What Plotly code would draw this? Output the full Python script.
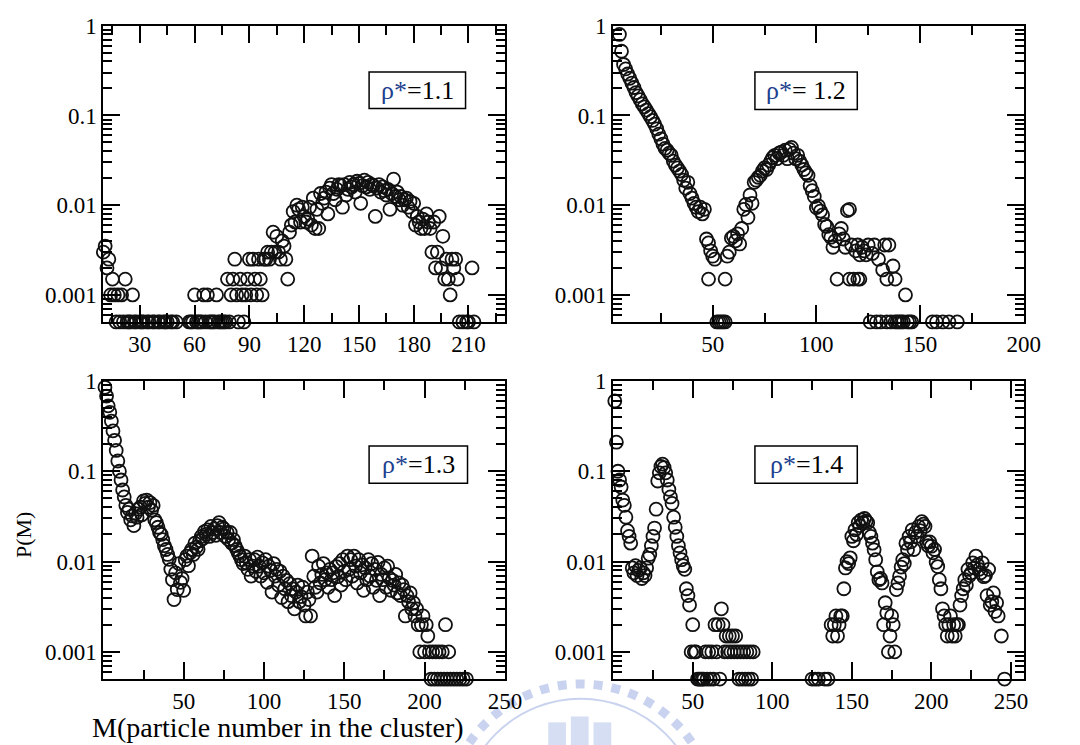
import plotly.graph_objects as go

W, H = 1080, 745

# ---- cluster-size distributions P(M) for four reduced densities ----
m_rho11 = [10, 11, 12, 13, 14, 15, 16, 17, 18, 19, 20, 21, 22, 23, 24, 25, 26, 27, 28, 30,
           31, 32, 34, 35, 37, 38, 40, 41, 43, 44, 45, 47, 48, 50,
           57, 58, 59, 60, 61, 62, 63, 64, 65, 66, 67, 68, 69, 70, 71, 72, 73, 74, 75, 76,
           77, 78, 79, 80, 81, 82, 83, 84, 85, 86, 87, 88, 89, 90, 91, 92, 93, 94, 95, 96,
           97, 98, 99, 100, 101, 102, 103, 104, 105, 106, 107, 108, 109, 110, 111, 112, 113,
           114, 115, 116, 117, 118, 119, 120, 121, 122, 123, 124, 125, 126, 127, 128, 129,
           130, 131, 132, 133, 134, 135, 136, 137, 138, 139, 140, 141, 142, 143, 144, 145,
           146, 147, 148, 149, 150, 151, 152, 153, 154, 155, 156, 157, 158, 159, 160, 161,
           162, 163, 164, 165, 166, 167, 168, 169, 170, 171, 172, 173, 174, 175, 176, 177,
           178, 179, 180, 181, 182, 183, 184, 185, 186, 187, 188, 189, 190, 191, 192, 193,
           194, 195, 196, 197, 198, 199, 200, 201, 202, 203, 204, 205, 207, 209, 210, 212, 213]
p_rho11 = [0.003, 0.0035, 0.002, 0.0025, 0.001, 0.0015, 0.001, 0.0005, 0.001, 0.0005, 0.001,
           0.0005, 0.0015, 0.0005, 0.0005, 0.0005, 0.001, 0.0005, 0.0005, 0.0005,
           0.0005, 0.0005, 0.0005, 0.0005, 0.0005, 0.0005, 0.0005, 0.0005, 0.0005, 0.0005,
           0.0005, 0.0005, 0.0005, 0.0005,
           0.0005, 0.0005, 0.0005, 0.001, 0.0005, 0.0005, 0.0005, 0.0005, 0.001, 0.0005,
           0.001, 0.0005, 0.0005, 0.0005, 0.0005, 0.001, 0.0005, 0.0005, 0.0005, 0.0005,
           0.0005, 0.0015, 0.0005, 0.001, 0.0015, 0.0025, 0.001, 0.0005, 0.0015, 0.001,
           0.0005, 0.001, 0.0015, 0.0025, 0.001, 0.0025, 0.0015, 0.001, 0.0025, 0.0015,
           0.001, 0.0025, 0.0025, 0.003, 0.0025, 0.003, 0.005, 0.003, 0.0045, 0.003, 0.0025,
           0.004, 0.0035, 0.0025, 0.0015, 0.005, 0.006,
           0.0085, 0.0065, 0.01, 0.009, 0.0065, 0.0095, 0.0075, 0.0065, 0.007, 0.0095, 0.006,
           0.012, 0.0055, 0.009, 0.0055, 0.0135,
           0.0105, 0.012, 0.014, 0.008, 0.0155, 0.017, 0.0135, 0.0115, 0.015, 0.017, 0.0165,
           0.0095, 0.017, 0.013, 0.015, 0.018,
           0.016, 0.017, 0.014, 0.0185, 0.0175, 0.0105, 0.0165, 0.019, 0.016, 0.018, 0.015,
           0.017, 0.0165, 0.0075, 0.0155, 0.017,
           0.014, 0.016, 0.0145, 0.013, 0.015, 0.009, 0.0135, 0.0195, 0.0125, 0.014, 0.0115,
           0.0125, 0.01, 0.0115, 0.012, 0.0095,
           0.011, 0.0085, 0.0105, 0.006, 0.0075, 0.0065, 0.0055, 0.007, 0.0055, 0.008, 0.0065,
           0.0055, 0.003, 0.0065, 0.002, 0.003,
           0.0075, 0.002, 0.0045, 0.0015, 0.0025, 0.0015, 0.001, 0.0025, 0.002, 0.0025, 0.0015,
           0.0005, 0.0005, 0.0005, 0.0005, 0.002, 0.0005]

m_rho12 = [5, 6, 7, 8, 9, 10, 11, 12, 13, 14, 15, 16, 17, 18, 19, 20, 21, 22, 23, 24, 25, 26,
           27, 28, 29, 30, 31, 32, 33, 34, 35, 36, 37, 38, 39, 40, 41, 42, 43, 44, 45, 46,
           47, 48, 48, 49, 50, 51, 52, 53, 54, 55, 56, 56, 57, 58, 59, 60, 61, 62, 63, 64,
           65, 66, 67, 68, 69, 70, 71, 72, 73, 74, 75, 76, 77, 78, 79, 80, 81, 82, 83, 84,
           85, 86, 87, 88, 89, 90, 91, 92, 93, 94, 95, 96, 97, 98, 99, 100, 101, 102, 103,
           104, 105, 106, 107, 108, 109, 110, 111, 112, 113, 114, 115, 116, 116, 117, 118,
           119, 120, 120, 121, 121, 122, 123, 124, 125, 126, 127, 128, 129, 130, 131, 132,
           133, 134, 134, 135, 136, 137, 138, 138, 139, 140, 141, 142, 143, 144, 145, 146,
           156, 158, 161, 164, 168]
p_rho12 = [0.8, 0.52, 0.37, 0.33, 0.29, 0.26, 0.23, 0.205, 0.18, 0.165, 0.15, 0.135, 0.125,
           0.115, 0.105, 0.097, 0.088, 0.08, 0.071, 0.062, 0.055, 0.048,
           0.043, 0.041, 0.038, 0.036, 0.031, 0.028, 0.026, 0.024, 0.022, 0.019, 0.0155,
           0.018, 0.0135, 0.012, 0.0105, 0.0095, 0.0085, 0.0095, 0.008, 0.009,
           0.0042, 0.0038, 0.0015, 0.0031, 0.0027, 0.0025, 0.0005, 0.0005, 0.0005, 0.0005,
           0.0015, 0.0005, 0.0027, 0.003, 0.0043, 0.0045, 0.004, 0.0048, 0.0037, 0.0055,
           0.009, 0.0102, 0.0073, 0.013, 0.0105, 0.018, 0.019, 0.0205, 0.0215, 0.024, 0.026,
           0.025, 0.028, 0.031, 0.034, 0.036, 0.033, 0.038, 0.039, 0.036,
           0.041, 0.033, 0.042, 0.044, 0.038, 0.033, 0.036, 0.031, 0.028, 0.025, 0.023,
           0.0215, 0.0165, 0.0145, 0.0125, 0.0094, 0.0098, 0.0086, 0.0078,
           0.0061, 0.0058, 0.0047, 0.0044, 0.0034, 0.004, 0.0015, 0.0048, 0.0055, 0.0042,
           0.0034, 0.0087, 0.009, 0.0015, 0.0036, 0.0015,
           0.0031, 0.0036, 0.0015, 0.0028, 0.0015, 0.0034, 0.0031, 0.0028, 0.0036, 0.0005,
           0.0029, 0.0036, 0.0005, 0.0025, 0.0005, 0.0019,
           0.0036, 0.0015, 0.0005, 0.0036, 0.0005, 0.0021, 0.0015, 0.0005, 0.0005, 0.0005,
           0.0005, 0.0005, 0.001, 0.0005, 0.0005, 0.0005,
           0.0005, 0.0005, 0.0005, 0.0005, 0.0005]

m_rho13 = list(range(1, 217)) + [218, 220, 222, 224, 226]
p_rho13 = [0.85, 0.68, 0.53, 0.45, 0.36, 0.28, 0.22, 0.17, 0.13, 0.1,
           0.08, 0.062, 0.052, 0.042, 0.035, 0.038, 0.029, 0.032, 0.025, 0.034,
           0.031, 0.038, 0.04, 0.033, 0.047, 0.044, 0.048, 0.04, 0.045, 0.037,
           0.042, 0.029, 0.027, 0.024, 0.021, 0.02, 0.0175, 0.015, 0.0136, 0.012,
           0.0106, 0.0082, 0.0063, 0.0038, 0.0075, 0.0049, 0.0095, 0.0059, 0.0065, 0.0048,
           0.0105, 0.0115, 0.009, 0.0125, 0.0136, 0.012, 0.016, 0.0145, 0.0137, 0.017,
           0.019, 0.018, 0.0215, 0.02, 0.0225, 0.019, 0.0245, 0.021, 0.023, 0.0195,
           0.025, 0.027, 0.021, 0.024, 0.023, 0.019, 0.021, 0.0175, 0.021, 0.016,
           0.0175, 0.015, 0.0136, 0.0125, 0.0115, 0.0105, 0.0095, 0.0115, 0.0097, 0.0082,
           0.0105, 0.0069, 0.0089, 0.0105, 0.0078, 0.0112, 0.0089, 0.0069, 0.0097, 0.0075,
           0.0105, 0.0059, 0.0089, 0.008, 0.0046, 0.0095, 0.0069, 0.0082, 0.0055, 0.0078,
           0.004, 0.0069, 0.005, 0.0062, 0.0036, 0.0057, 0.0042, 0.005, 0.003, 0.0046,
           0.0055, 0.0036, 0.0041, 0.0052, 0.0033, 0.0025, 0.0046, 0.0038, 0.0025, 0.0115,
           0.0069, 0.0052, 0.0046, 0.0089, 0.0058, 0.0072, 0.0095, 0.0063, 0.0075, 0.0052,
           0.0082, 0.0063, 0.0075, 0.0042, 0.0088, 0.0068, 0.0095, 0.0055, 0.0105, 0.0078,
           0.0063, 0.0115, 0.0082, 0.0105, 0.0069, 0.0115, 0.0089, 0.0058, 0.0105, 0.0075,
           0.0092, 0.0048, 0.0085, 0.0063, 0.0105, 0.0069, 0.0095, 0.0052, 0.0082, 0.0062,
           0.0098, 0.0042, 0.0072, 0.0063, 0.0085, 0.0052, 0.0089, 0.0066, 0.0048, 0.0062,
           0.0055, 0.0072, 0.0045, 0.0058, 0.0042, 0.0055, 0.0049, 0.0025, 0.0042, 0.0036,
           0.0045, 0.003, 0.0035, 0.0025, 0.003, 0.002, 0.001, 0.002, 0.0025, 0.001,
           0.002, 0.0015, 0.001, 0.0005, 0.001, 0.0005, 0.001, 0.0005, 0.001, 0.0005,
           0.001, 0.0005, 0.002, 0.0005, 0.001, 0.0005,
           0.0005, 0.0005, 0.0005, 0.0005, 0.0005]

m_rho14 = list(range(1, 89)) + [125, 127, 129, 133, 135] + list(range(137, 243)) + [244, 246]
p_rho14 = [0.6, 0.21, 0.1, 0.08, 0.067, 0.048, 0.042, 0.031, 0.022, 0.019,
           0.016, 0.0085, 0.0075, 0.009, 0.007, 0.008, 0.0085, 0.0065, 0.0075, 0.007,
           0.0085, 0.0109, 0.012, 0.015, 0.019, 0.0235, 0.038, 0.078, 0.096, 0.113,
           0.12, 0.11, 0.096, 0.08, 0.063, 0.052, 0.044, 0.031, 0.024, 0.019,
           0.015, 0.0125, 0.0105, 0.009, 0.0082, 0.005, 0.0042, 0.0033, 0.001, 0.002,
           0.001, 0.001, 0.0005, 0.0005, 0.0005, 0.0005, 0.0005, 0.001, 0.0005, 0.001,
           0.0005, 0.001, 0.0005, 0.002, 0.001, 0.002, 0.0005, 0.003, 0.002, 0.001,
           0.0015, 0.001, 0.0015, 0.001, 0.0015, 0.001, 0.0015, 0.001, 0.0005, 0.001,
           0.0005, 0.001, 0.0005, 0.001, 0.0005, 0.001, 0.0005, 0.001,
           0.0005, 0.0005, 0.0005, 0.0005, 0.0005,
           0.002, 0.0015, 0.002, 0.0025, 0.0015, 0.002, 0.0025, 0.0025, 0.005, 0.0085,
           0.01, 0.0095, 0.011, 0.019, 0.017, 0.0225, 0.02, 0.027, 0.025, 0.029,
           0.027, 0.03, 0.028, 0.027, 0.021, 0.019, 0.016, 0.0135, 0.0105, 0.0077,
           0.0063, 0.0065, 0.0058, 0.002, 0.0035, 0.0027, 0.001, 0.0015, 0.0025, 0.002,
           0.001, 0.0049, 0.0058, 0.0069, 0.0087, 0.0105, 0.0095, 0.016, 0.0135, 0.019,
           0.0165, 0.0225, 0.0136, 0.021, 0.019, 0.0245, 0.022, 0.0277, 0.026, 0.0245,
           0.0165, 0.015, 0.0165, 0.0148, 0.0125, 0.0136, 0.0098, 0.0088, 0.0063, 0.005,
           0.003, 0.0025, 0.002, 0.0015, 0.002, 0.0025, 0.0015, 0.002, 0.0015, 0.002,
           0.002, 0.0033, 0.0042, 0.005, 0.0063, 0.0055, 0.0082, 0.007, 0.0075, 0.0097,
           0.0085, 0.0115, 0.0092, 0.0082, 0.0075, 0.0097, 0.0068, 0.007, 0.0042, 0.0082,
           0.0033, 0.0036, 0.0045, 0.0028, 0.0035, 0.0025,
           0.0015, 0.0005]

densities = ["1.1", "1.2", "1.3", "1.4"]
density_text = ["=1.1", "= 1.2", "=1.3", "=1.4"]

x_ranges = [[10, 230], [2, 200], [0, 250], [0, 258]]
x_tickvals = [[30, 60, 90, 120, 150, 180, 210],
              [50, 100, 150, 200],
              [50, 100, 150, 200, 250],
              [50, 100, 150, 200, 250]]
x_minor_step = [15, 25, 25, 25]
y_tickvals = [0.001, 0.01, 0.1, 1]
y_ticktext = ["0.001", "0.01", "0.1", "1"]
y_minor = [d * 10.0 ** k for k in range(-4, 0) for d in range(2, 10)]

# panel boxes in pixels: (left, right, top, bottom)
boxes = [(105, 513, 14, 315), (623, 1040, 14, 315),
         (105, 513, 375, 678), (623, 1040, 375, 678)]
# label boxes in pixels: (left, right, top, bottom)
tag_boxes = [(375, 473, 61, 98), (767, 871, 61, 99),
             (375, 475, 441, 479), (767, 871, 441, 479)]

FONT = "Liberation Serif"
series = [(m_rho11, p_rho11), (m_rho12, p_rho12), (m_rho13, p_rho13), (m_rho14, p_rho14)]

fig = go.Figure()
layout = dict(width=W, height=H, margin=dict(l=0, r=0, t=0, b=0),
              paper_bgcolor="white", plot_bgcolor="white", showlegend=False)

for i, (m, p) in enumerate(series):
    n = "" if i == 0 else str(i + 1)
    fig.add_trace(go.Scatter(
        x=m, y=p, mode="markers", xaxis="x" + n, yaxis="y" + n,
        cliponaxis=False,
        marker=dict(symbol="circle-open", size=13, color="#111111",
                    line=dict(width=1.8, color="#111111"))))
    l, r, t, b = boxes[i]
    common = dict(showline=True, linecolor="black", linewidth=2, mirror="allticks",
                  ticks="inside", ticklen=17, tickwidth=1.5, tickcolor="black",
                  showgrid=False, zeroline=False,
                  tickfont=dict(family=FONT, size=23, color="black"))
    layout["xaxis" + n] = dict(
        common, domain=[l / W, r / W], anchor="y" + n, range=x_ranges[i],
        tickmode="array", tickvals=x_tickvals[i],
        minor=dict(ticks="inside", ticklen=9, tickwidth=1.5, tickcolor="black",
                   dtick=x_minor_step[i], tick0=0))
    layout["yaxis" + n] = dict(
        common, domain=[1 - b / H, 1 - t / H], anchor="x" + n, type="log",
        range=[-3.30103, 0], tickmode="array", tickvals=y_tickvals, ticktext=y_ticktext,
        minor=dict(ticks="inside", ticklen=9, tickwidth=1.5, tickcolor="black",
                   tickmode="array", tickvals=y_minor))

# faint circular seal in the lower middle of the page
seal = "rgba(120,145,215,0.40)"
shapes = [
    dict(type="circle", xref="paper", yref="paper", layer="below",
         x0=(590 - 137) / W, x1=(590 + 137) / W, y0=1 - (820 + 137) / H, y1=1 - (820 - 137) / H,
         line=dict(color=seal, width=9, dash="dot")),
    dict(type="circle", xref="paper", yref="paper", layer="below",
         x0=(590 - 122) / W, x1=(590 + 122) / W, y0=1 - (820 + 122) / H, y1=1 - (820 - 122) / H,
         line=dict(color=seal, width=2)),
]
for bx0, bx1, by0, by1 in [(557, 575, 722, 745), (580, 598, 716, 745), (603, 621, 722, 745)]:
    shapes.append(dict(type="rect", xref="paper", yref="paper", layer="below",
                       x0=bx0 / W, x1=bx1 / W, y0=1 - by1 / H, y1=1 - by0 / H,
                       line=dict(width=0), fillcolor="rgba(120,145,215,0.30)"))

annotations = []
for i, (l, r, t, b) in enumerate(tag_boxes):
    shapes.append(dict(type="rect", xref="paper", yref="paper",
                       x0=l / W, x1=r / W, y0=1 - b / H, y1=1 - t / H,
                       line=dict(color="black", width=1.5), fillcolor="white"))
    annotations.append(dict(
        xref="paper", yref="paper", x=(l + r) / 2 / W, y=1 - (t + b) / 2 / H,
        showarrow=False, xanchor="center", yanchor="middle",
        text="<span style='color:#1d3f8f'>ρ*</span>" + density_text[i],
        font=dict(family=FONT, size=26, color="black")))

annotations.append(dict(xref="paper", yref="paper", x=24 / W, y=1 - 532 / H,
                        xanchor="center", yanchor="middle",
                        text="P(M)", textangle=-90, showarrow=False,
                        font=dict(family=FONT, size=22, color="black")))
annotations.append(dict(xref="paper", yref="paper", x=282 / W, y=1 - 727 / H,
                        xanchor="center", yanchor="middle",
                        text="M(particle number in the cluster)", showarrow=False,
                        font=dict(family=FONT, size=28, color="black")))

layout["shapes"] = shapes
layout["annotations"] = annotations
fig.update_layout(**layout)
fig.write_html("out.html")
